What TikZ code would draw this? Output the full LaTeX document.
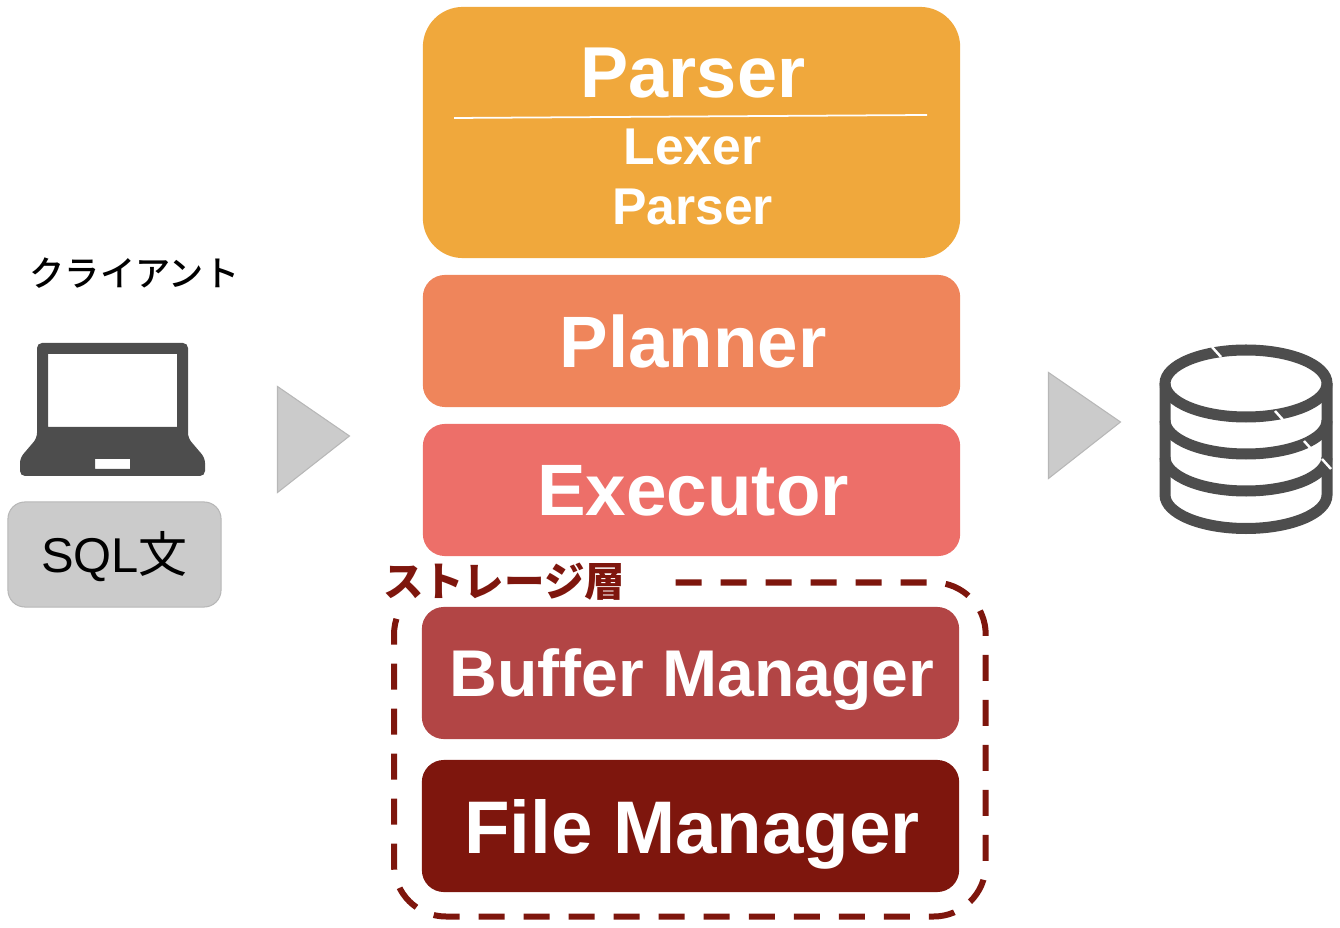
\documentclass[tikz,border=0pt]{standalone}
\usepackage{fontspec}
\setmainfont{Liberation Sans}
\newfontfamily\jpfont{Noto Sans CJK JP}
\newfontfamily\jpheavy{Noto Sans CJK JP Medium}
\usepackage{xcolor}
\usetikzlibrary{positioning,calc}
\definecolor{parsercol}{HTML}{F0A83C}
\definecolor{plannercol}{HTML}{EF855B}
\definecolor{executorcol}{HTML}{ED6F69}
\definecolor{buffercol}{HTML}{B24545}
\definecolor{filecol}{HTML}{7E160D}
\definecolor{iconcol}{HTML}{4D4D4D}
\definecolor{softgray}{HTML}{CBCBCB}
\tikzset{
    layerbox/.style={fill=#1, rounded corners=0.22cm, minimum width=5.37cm, minimum height=1.32cm,
        inner sep=0pt, text=white, text depth=-1pt, font=\bfseries\fontsize{20.7}{24}\selectfont,
        execute at begin node={\kern0.9pt}},
    sublabel/.style={text=white, inner sep=0pt, font=\bfseries\fontsize{14.7}{17}\selectfont},
    playmark/.style={fill=softgray, draw=softgray!90!black, line width=0.3pt},
    dbline/.style={draw=iconcol, line width=0.11cm},
    nick/.style={draw=white, line width=0.7pt}
}

\begin{document}
\begin{tikzpicture}[x=0.01cm, y=-0.01cm]
    \useasboundingbox (0,0) rectangle (1340,928);

    % Parser block
    \node[layerbox=parsercol, minimum height=2.51cm, rounded corners=0.4cm] (parserbox) at (691.5,132.5) {};
    \node[text=white, inner sep=0pt, font=\bfseries\fontsize{20.5}{24}\selectfont] (parsertitle) at (693,73.5) {Parser};
    \coordinate (ruleL) at (454,118);
    \coordinate (ruleR) at (927,115);
    \draw[white, line width=0.5pt] (ruleL) -- (ruleR);
    \node[sublabel] (lexer) at (692.5,146.5) {Lexer};
    \node[sublabel] (subparser) at (692.5,207) {Parser};

    % Remaining layers
    \node[layerbox=plannercol] (planner) at (691.5,341) {Planner};
    \node[layerbox=executorcol] (executor) at (691.5,490) {Executor};
    \node[layerbox=buffercol, font=\bfseries\fontsize{18.8}{22}\selectfont] (buffer) at (690.5,673) {Buffer Manager};
    \node[layerbox=filecol, font=\bfseries\fontsize{21.2}{25}\selectfont] (filemgr) at (690.5,826) {File Manager};

    % Storage group, open where the label sits
    \draw[filecol, line width=0.06cm, dash pattern=on 0.26cm off 0.19cm]
        (675.5,582.5) -- (933.7,582.5) arc[start angle=90, end angle=0, x radius=52, y radius=-52]
        -- (985.7,864.5) arc[start angle=0, end angle=-90, x radius=52, y radius=-52]
        -- (446,916.5) arc[start angle=-90, end angle=-180, x radius=52, y radius=-52]
        -- (394,634.5) arc[start angle=180, end angle=156, x radius=52, y radius=-52];
    \node[text=filecol, inner sep=0pt, font=\jpfont\bfseries\fontsize{11.5}{14}\selectfont] (storage) at (504,582) {ストレージ層};

    % Client side
    \node[inner sep=0pt, font=\jpheavy\fontsize{10}{12}\selectfont] (client) at (134.5,273) {クライアント};
    \fill[iconcol, even odd rule]
        [rounded corners=0.05cm] (37,343) -- (188,343) -- (188,438) -- (205,458) -- (205,476) -- (20,476) -- (20,458) -- (37,438) -- cycle
        [sharp corners] (48,354) rectangle (177,427)
        (95,459) rectangle (130,469);
    \node[fill=softgray, draw=softgray!90!black, line width=0.3pt, rounded corners=0.17cm, minimum width=2.13cm, minimum height=1.05cm,
        inner sep=0pt, text depth=1.3pt, font=\fontsize{13.9}{16}\selectfont] (sql) at (114.5,554.5) {SQL{\jpfont 文}};

    % Flow marks
    \draw[playmark] (277.5,386.5) -- (349.5,436) -- (277.5,492.5) -- cycle;
    \draw[playmark] (1048.5,372.5) -- (1120.5,422) -- (1048.5,478.5) -- cycle;

    % Database
    \draw[dbline] (1246,383.5) ellipse (81 and 33.5);
    \draw[dbline] (1165,383.5) -- (1165,495) arc[start angle=180, end angle=360, x radius=81, y radius=-33.5] -- (1327,383.5);
    \foreach \yc in {420.5,457.5}
        \draw[dbline] (1165,\yc) arc[start angle=180, end angle=360, x radius=81, y radius=-33.5];
    \foreach \a/\b in {1212/347, 1275/411, 1304/441, 1322/459}
        \draw[nick] (\a,\b) -- ++(9,10);
\end{tikzpicture}
\end{document}
